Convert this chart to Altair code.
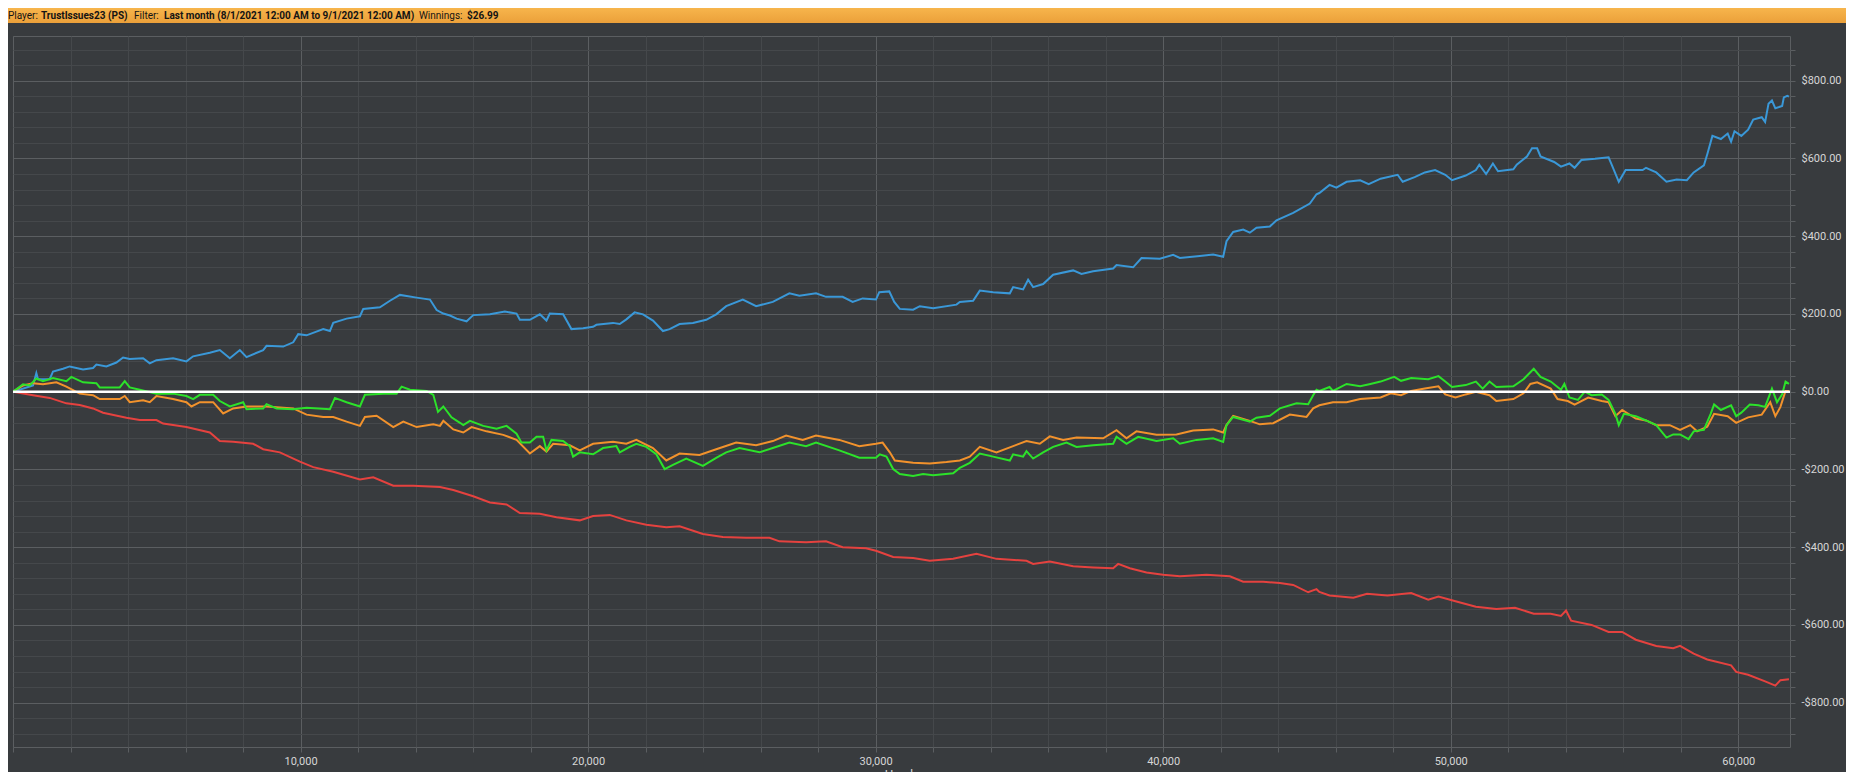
import altair as alt
import pandas as pd

# ---------------- data ----------------
BLUE_HANDS = [0, 696, 812, 870, 1276, 1392, 1740, 1972, 2436, 2784, 2900, 3248, 3596, 3828, 4060, 4524, 4756, 4988, 5568, 6032, 6265, 6845, 7193, 7541, 7889, 8121, 8701, 8817, 9397, 9745, 9919, 10209, 10789, 11021, 11137, 11601, 12065, 12181, 12761, 13109, 13457, 14037, 14501, 14733, 14965, 15197, 15428, 15775, 16007, 16586, 17106, 17512, 17627, 17975, 18322, 18553, 18669, 19132, 19421, 19826, 20174, 20289, 20868, 21100, 21331, 21620, 21910, 22257, 22604, 22836, 23183, 23646, 24109, 24456, 24803, 25382, 25845, 26424, 27002, 27350, 27928, 28275, 28854, 29201, 29549, 30012, 30127, 30474, 30648, 30841, 31304, 31536, 32000, 32812, 32928, 33391, 33623, 34087, 34667, 34783, 35130, 35304, 35478, 35826, 36174, 36870, 37159, 37565, 38261, 38377, 38957, 39246, 39884, 40348, 40580, 41275, 41739, 42087, 42203, 42435, 42783, 43014, 43246, 43710, 43942, 44522, 45101, 45333, 45432, 45787, 46024, 46379, 46852, 47148, 47562, 48154, 48331, 48746, 49101, 49456, 49811, 50047, 50521, 50876, 50994, 51231, 51467, 51645, 52178, 52296, 52651, 52828, 53006, 53124, 53598, 53834, 54130, 54308, 54544, 55018, 55491, 55609, 55846, 56083, 56675, 56793, 57148, 57503, 57858, 58213, 58450, 58805, 58923, 59101, 59396, 59633, 59751, 59870, 60107, 60343, 60521, 60817, 60935, 61053, 61172, 61290, 61527, 61586, 61704, 61763]
BLUE_WON = [0, 16, 48, 32, 32, 52, 59, 65, 57, 61, 70, 65, 75, 88, 84, 86, 73, 81, 86, 78, 91, 100, 107, 86, 107, 89, 107, 118, 116, 127, 148, 145, 161, 156, 177, 188, 194, 213, 217, 234, 249, 242, 237, 210, 201, 196, 188, 181, 197, 199, 206, 201, 185, 185, 199, 183, 201, 199, 161, 163, 167, 172, 177, 174, 186, 204, 199, 183, 156, 161, 174, 177, 185, 199, 220, 237, 220, 231, 253, 247, 253, 244, 244, 231, 240, 237, 256, 258, 231, 213, 211, 220, 215, 224, 231, 234, 260, 256, 253, 269, 263, 288, 269, 277, 301, 312, 303, 310, 317, 326, 320, 344, 342, 352, 344, 349, 353, 347, 387, 411, 417, 409, 422, 425, 441, 460, 484, 508, 511, 532, 525, 540, 544, 534, 548, 558, 540, 552, 564, 570, 558, 544, 556, 570, 584, 560, 587, 567, 572, 584, 605, 626, 626, 605, 591, 579, 587, 576, 596, 599, 603, 582, 540, 570, 570, 576, 564, 540, 546, 544, 564, 582, 611, 658, 650, 664, 643, 670, 658, 674, 700, 706, 694, 741, 749, 729, 735, 757, 761, 759]

RED_HANDS = [0, 696, 1276, 1856, 2320, 2784, 3132, 3944, 4408, 4988, 5220, 6032, 6845, 7193, 7657, 8353, 8701, 9281, 9977, 10441, 11137, 12065, 12529, 13225, 13921, 14849, 15313, 16007, 16586, 17164, 17627, 18322, 18901, 19711, 20174, 20752, 21331, 22025, 22720, 23183, 23993, 24687, 25498, 26308, 26655, 27581, 28275, 28854, 29665, 30012, 30609, 31304, 31884, 32696, 33507, 34203, 35246, 35478, 36058, 36870, 37565, 38261, 38435, 38841, 39420, 40000, 40580, 41507, 42319, 42783, 43478, 44058, 44522, 45043, 45333, 45432, 45787, 46615, 47089, 47799, 48627, 49219, 49574, 50166, 50876, 51586, 52237, 52888, 53479, 53834, 54012, 54189, 54899, 55491, 55964, 56438, 57148, 57740, 57976, 58450, 58923, 59751, 59929, 60343, 60935, 61290, 61467, 61763]
RED_WON = [0, -9, -16, -30, -34, -43, -54, -67, -73, -73, -82, -91, -105, -127, -129, -134, -148, -156, -180, -194, -206, -226, -220, -242, -242, -245, -253, -269, -285, -290, -312, -314, -323, -331, -320, -317, -331, -342, -349, -346, -366, -374, -376, -376, -385, -387, -385, -400, -403, -409, -425, -428, -435, -430, -417, -430, -435, -443, -437, -449, -452, -454, -443, -454, -465, -471, -475, -471, -475, -489, -489, -492, -497, -516, -508, -515, -524, -530, -520, -524, -518, -535, -527, -539, -553, -559, -556, -571, -571, -577, -563, -589, -600, -618, -618, -638, -654, -660, -654, -674, -689, -704, -721, -728, -745, -756, -742, -740]

ORANGE_HANDS = [0, 348, 696, 1044, 1508, 1856, 2320, 2784, 3016, 3712, 3886, 4060, 4524, 4756, 4988, 5568, 6032, 6206, 6497, 6961, 7309, 7657, 8121, 8817, 9745, 10209, 10789, 11137, 11601, 12065, 12239, 12645, 13225, 13573, 14037, 14617, 14850, 14966, 15313, 15660, 15949, 16470, 17049, 17512, 17975, 18322, 18553, 18785, 19363, 19711, 20174, 20868, 21331, 21678, 22257, 22720, 23183, 23877, 24456, 25150, 25845, 26424, 26887, 27465, 27928, 28738, 29433, 30012, 30243, 30493, 30667, 31304, 31884, 32464, 32928, 33275, 33623, 34203, 34783, 35246, 35710, 36058, 36522, 36986, 37913, 38377, 38725, 39072, 39768, 40464, 41043, 41739, 42087, 42203, 42435, 43014, 43362, 43826, 44406, 44986, 45217, 45432, 45905, 46379, 46852, 47562, 47917, 48272, 48627, 49101, 49574, 49811, 50166, 50521, 50876, 51349, 51586, 52178, 52533, 52769, 53006, 53479, 53716, 54071, 54308, 54781, 55254, 55491, 55728, 55964, 56438, 56793, 57148, 57621, 57976, 58331, 58568, 58923, 59160, 59633, 59929, 60343, 60817, 61112, 61290, 61467, 61645, 61763]
ORANGE_WON = [0, 16, 22, 19, 24, 13, -5, -9, -19, -19, -11, -27, -22, -27, -11, -19, -27, -38, -27, -27, -56, -43, -38, -38, -43, -59, -65, -65, -77, -88, -65, -62, -91, -77, -91, -84, -88, -75, -97, -105, -91, -102, -111, -124, -159, -140, -154, -134, -138, -151, -134, -129, -134, -124, -145, -177, -159, -163, -148, -131, -138, -127, -113, -124, -113, -124, -140, -134, -131, -156, -177, -183, -185, -181, -177, -167, -142, -156, -140, -127, -134, -115, -124, -118, -120, -99, -120, -102, -111, -110, -100, -97, -105, -86, -62, -75, -84, -81, -59, -65, -43, -35, -27, -27, -19, -15, -4, -9, 2, 8, 14, -7, -15, -7, 0, -9, -24, -19, -4, 20, 24, 8, -19, -24, -33, -15, -24, -27, -63, -47, -69, -74, -86, -86, -98, -86, -102, -90, -57, -63, -80, -66, -59, -27, -63, -39, 2, 2]

GREEN_HANDS = [0, 348, 580, 812, 1044, 1392, 1856, 2030, 2436, 2900, 3016, 3712, 3886, 4060, 4408, 4988, 5568, 6032, 6265, 6497, 6961, 7193, 7541, 8005, 8121, 8701, 8817, 9165, 9745, 10209, 11021, 11195, 11601, 12065, 12239, 12877, 13341, 13515, 13805, 14385, 14617, 14780, 14966, 15250, 15545, 15660, 15891, 16354, 16817, 17164, 17512, 17685, 17975, 18206, 18437, 18553, 18727, 19132, 19363, 19479, 19711, 20174, 20521, 20984, 21100, 21447, 21678, 22025, 22373, 22662, 22951, 23414, 23993, 24456, 24803, 25266, 25961, 26424, 27002, 27581, 27928, 28738, 29433, 30012, 30145, 30377, 30609, 30841, 31304, 31652, 32000, 32696, 32928, 33275, 33623, 34087, 34667, 34783, 35130, 35246, 35478, 35826, 36174, 36638, 36986, 37565, 38261, 38377, 38725, 39130, 39768, 40348, 40580, 41159, 41739, 42087, 42203, 42435, 43014, 43246, 43710, 44058, 44638, 45043, 45217, 45333, 45432, 45787, 45905, 46379, 46852, 47207, 47562, 48035, 48272, 48627, 49219, 49574, 49811, 50047, 50521, 50876, 51112, 51349, 51586, 52178, 52533, 52888, 53124, 53479, 53834, 53953, 54130, 54426, 54663, 54899, 55254, 55491, 55728, 55846, 56024, 56438, 56793, 57148, 57503, 57740, 57976, 58272, 58450, 58805, 59041, 59160, 59396, 59751, 59929, 60107, 60402, 60698, 60935, 61172, 61349, 61527, 61645, 61763]
GREEN_WON = [0, 19, 16, 34, 27, 35, 27, 38, 24, 22, 11, 11, 27, 11, 5, -5, -5, -11, -19, -8, -8, -24, -38, -27, -45, -43, -32, -43, -45, -41, -45, -16, -27, -38, -8, -5, -5, 13, 5, 2, -8, -52, -38, -66, -80, -86, -75, -88, -95, -88, -108, -131, -131, -116, -116, -151, -124, -127, -140, -167, -156, -161, -145, -140, -156, -142, -134, -142, -161, -199, -188, -172, -191, -170, -156, -145, -156, -145, -131, -140, -131, -151, -170, -170, -161, -167, -199, -212, -217, -212, -215, -210, -196, -183, -159, -167, -177, -161, -167, -153, -172, -156, -142, -131, -142, -138, -134, -116, -134, -116, -127, -120, -134, -124, -120, -129, -86, -65, -77, -67, -62, -43, -30, -32, -9, 5, 2, 12, 2, 20, 14, 20, 26, 38, 28, 35, 32, 40, 26, 12, 17, 26, 8, 26, 12, 14, 32, 59, 38, 26, 5, 20, -15, -21, 0, -9, -7, -21, -57, -86, -57, -63, -74, -86, -118, -110, -110, -122, -102, -98, -57, -33, -47, -35, -63, -54, -33, -35, -39, 8, -27, -7, 26, 20]

ZERO = [0]

X_DOMAIN = [0, 61800]
Y_DOMAIN = [-914, 915]
X_TICKS = list(range(0, 61801, 2000))
Y_TICKS = list(range(-880, 881, 40))

HEADER_PARTS = [
    ("Player:", "normal", -5),
    ("TrustIssues23 (PS)", "bold", 28),
    ("Filter:", "normal", 121),
    ("Last month (8/1/2021 12:00 AM to 9/1/2021 12:00 AM)", "bold", 151),
    ("Winnings:", "normal", 406),
    ("$26.99", "bold", 454),
]

# ---------------- style ----------------
BG = "#383b3e"
MAJOR = "#5b5e61"
MINOR = "#45484b"
LABEL = "#d6d6d6"
FONT = "Roboto"
W, H = 1777, 711

x_axis = alt.Axis(
    values=X_TICKS,
    labelExpr="datum.value % 10000 === 0 && datum.value > 0 ? format(datum.value, ',') : ''",
    grid=True,
    gridColor={"condition": {"test": "datum.value % 10000 === 0", "value": MAJOR}, "value": MINOR},
    gridWidth=1,
    ticks=True, tickSize=5, tickColor=MAJOR,
    domain=False,
    labelColor=LABEL, labelFont=FONT, labelFontSize=11, labelPadding=3,
    labelOverlap=False, labelFlush=False,
    title="Hands", titleColor=LABEL, titleFont=FONT, titleFontSize=12,
    titleFontWeight="normal", titlePadding=3,
)
y_axis = alt.Axis(
    orient="right",
    values=Y_TICKS,
    labelExpr="datum.value % 200 === 0 ? (datum.value < 0 ? '-$' : '$') + format(abs(datum.value), ',.2f') : ''",
    grid=True,
    gridColor={"condition": {"test": "datum.value % 200 === 0", "value": MAJOR}, "value": MINOR},
    gridWidth=1,
    ticks=True, tickSize=5, tickColor=MAJOR,
    domain=False,
    labelColor=LABEL, labelFont=FONT, labelFontSize=11, labelPadding=6,
    labelOverlap=False, labelFlush=False,
    title=None,
)

x_enc = alt.X("hands:Q", scale=alt.Scale(domain=X_DOMAIN, nice=False, zero=False), axis=x_axis)
y_enc = alt.Y("won:Q", scale=alt.Scale(domain=Y_DOMAIN, nice=False, zero=False), axis=y_axis)


def series(hands, won, color):
    df = pd.DataFrame({"hands": hands, "won": won})
    return alt.Chart(df).mark_line(color=color, strokeWidth=2, clip=True).encode(x=x_enc, y=y_enc)


red = series(RED_HANDS, RED_WON, "#e5423f")
blue = series(BLUE_HANDS, BLUE_WON, "#3a98d8")
orange = series(ORANGE_HANDS, ORANGE_WON, "#f2922c")
green = series(GREEN_HANDS, GREEN_WON, "#2ce22a")

zero_line = alt.Chart(pd.DataFrame({"won": ZERO})).mark_rule(color="#ffffff", strokeWidth=2.5).encode(
    y=alt.Y("won:Q", scale=alt.Scale(domain=Y_DOMAIN, nice=False, zero=False), axis=y_axis)
)

one = alt.Data(values=[{"k": 1}])
header_bar = alt.Chart(one).mark_rect(
    fill=alt.Gradient(
        gradient="linear",
        stops=[alt.GradientStop(color="#f7b54c", offset=0), alt.GradientStop(color="#eba03a", offset=1)],
        x1=0, x2=0, y1=0, y2=1,
    )
).encode(x=alt.value(-5), x2=alt.value(1833), y=alt.value(-28), y2=alt.value(-13))

header_texts = [
    alt.Chart(one).mark_text(
        text=txt, align="left", baseline="middle", font=FONT, fontSize=10,
        fontWeight=wt, color="#141414",
    ).encode(x=alt.value(px), y=alt.value(-20.5))
    for txt, wt, px in HEADER_PARTS
]

chart = alt.layer(
    red, blue, orange, green, zero_line, header_bar, *header_texts
).properties(
    width=W, height=H,
    autosize=alt.AutoSizeParams(type="none"),
    padding={"left": 5, "top": 28, "right": 56, "bottom": 25},
    background=BG,
).configure_view(
    stroke=MAJOR, strokeWidth=1,
)

chart.save("out.html", embed_options={"renderer": "svg", "actions": False})
